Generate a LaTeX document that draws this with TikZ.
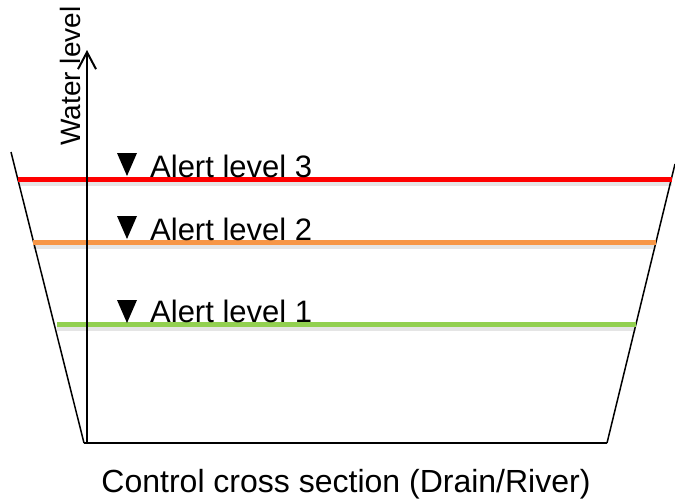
\documentclass[tikz,border=0pt]{standalone}
\usepackage{fontspec}
\setmainfont{Liberation Sans}
\usepackage{tikz}
\usetikzlibrary{arrows.meta}
\definecolor{alertred}{RGB}{255,0,0}
\definecolor{alertorange}{RGB}{247,150,70}
\definecolor{alertgreen}{RGB}{146,208,80}

\begin{document}
\begin{tikzpicture}[x=1pt,y=-1pt,
  levellabel/.style={font=\fontsize{31}{31}\selectfont, inner sep=0pt, anchor=base west},
  levelline/.style={line width=5pt},
  levelshade/.style={line width=7pt, black!10},
  bank/.style={line width=1.5pt}]
\useasboundingbox (0,0) rectangle (675,499);
\coordinate (tl) at (11,152);
\coordinate (bl) at (84,443);
\coordinate (br) at (607,443);
\coordinate (tr) at (675,164);
\coordinate (axisbase) at (87,443);
\coordinate (axistop) at (87,50);

\coordinate (l3) at (18,179);
\coordinate (r3) at (672,179);
\coordinate (l2) at (33,242);
\coordinate (r2) at (656,242);
\coordinate (l1) at (57,324);
\coordinate (r1) at (636,324);

\draw [levelshade] ([yshift=-3pt]l3) -- ([yshift=-3pt]r3);
\draw [levelshade] ([yshift=-3pt]l2) -- ([yshift=-3pt]r2);
\draw [levelshade] ([yshift=-3pt]l1) -- ([yshift=-3pt]r1);

\draw [bank] (tl) -- (bl);
\draw [line width=2.5pt] (bl) -- (br);
\draw [bank] (br) -- (tr);

\draw [levelline, alertred] (l3) -- (r3);
\draw [levelline, alertorange] (l2) -- (r2);
\draw [levelline, alertgreen] (l1) -- (r1);

\draw [line width=2pt, -{Straight Barb[length=17pt,width=18pt]}] (axisbase) -- (axistop);
\node (axislabel) at (80,76) [rotate=90, anchor=base, inner sep=0pt, font=\fontsize{28}{28}\selectfont] {Water level};

\fill (117,153) -- (137,153) -- (127,176) -- cycle;
\fill (117,216) -- (137,216) -- (127,239) -- cycle;
\fill (117,300) -- (137,300) -- (127,323) -- cycle;
\node (a3) at (150,177) [levellabel] {Alert level 3};
\node (a2) at (150,240) [levellabel] {Alert level 2};
\node (a1) at (150,322) [levellabel] {Alert level 1};

\node (caption) at (346,492) [anchor=base, inner sep=0pt, font=\fontsize{32}{32}\selectfont] {Control cross section (Drain/River)};
\end{tikzpicture}
\end{document}
